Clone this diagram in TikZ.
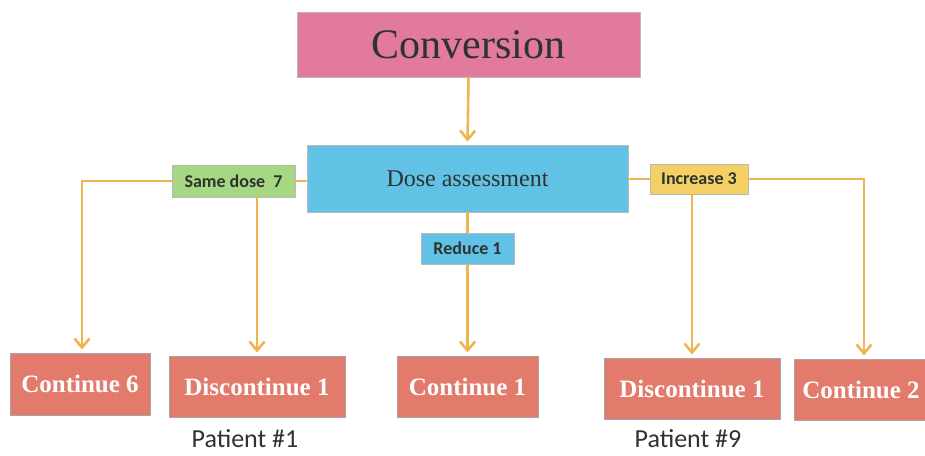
\documentclass[tikz,border=0pt]{standalone}
\usepackage{fontspec}
\setmainfont{Liberation Serif}
\newfontfamily\carlitofont{Carlito}
\usetikzlibrary{arrows.meta}
\definecolor{pinkc}{HTML}{E17A9C}
\definecolor{bluec}{HTML}{62C2E6}
\definecolor{greenc}{HTML}{A6D783}
\definecolor{yellc}{HTML}{F4D064}
\definecolor{salmc}{HTML}{E27B6C}
\definecolor{linec}{HTML}{EFB450}
\definecolor{txtc}{HTML}{2E3330}
\tikzset{
  box/.style={draw=gray!55, line width=0.8pt, inner sep=0pt, align=center, text=txtc},
  outbox/.style={box, fill=salmc, draw=gray!70, line width=1pt, text=white,
    font=\fontsize{25}{27}\selectfont\bfseries, minimum height=61pt},
  lab/.style={box, font=\carlitofont\bfseries\fontsize{18}{20}\selectfont, minimum height=31pt},
  conn/.style={draw=linec, line width=2.6pt},
  arr/.style={conn, -{Straight Barb[length=9pt,width=15pt,line width=2.6pt]}, shorten >=3pt},
  pat/.style={font=\carlitofont\fontsize{26}{28}\selectfont, text=txtc, inner sep=0pt}
}
\begin{document}
\begin{tikzpicture}[x=1pt,y=-1pt]
\useasboundingbox (0,0) rectangle (925,455);
\node[box, fill=pinkc, minimum width=343pt, minimum height=65pt, font=\fontsize{42}{44}\selectfont] (conv) at (468.5,44.5) {Conversion};
\node[box, fill=bluec, minimum width=321pt, minimum height=67pt, font=\fontsize{24}{26}\selectfont] (dose) at (467.5,178.5) {Dose assessment};
\node[lab, fill=greenc, minimum width=123pt, minimum height=32pt] (same) at (233.5,181) {Same dose\ \ 7};
\node[lab, fill=bluec, minimum width=93pt] (red) at (467.5,248.5) {Reduce 1};
\node[lab, fill=yellc, minimum width=98pt, minimum height=30pt] (inc) at (699,179) {Increase 3};
\node[outbox, minimum width=140pt, minimum height=62pt] (c6) at (80,384) {Continue 6};
\node[outbox, minimum width=176pt] (d1) at (257,386.5) {Discontinue 1};
\node[outbox, minimum width=141pt] (c1) at (467.5,386.5) {Continue 1};
\node[outbox, minimum width=176pt] (d9) at (692,388.5) {Discontinue 1};
\node[outbox, minimum width=134pt] (c2) at (861,389.5) {Continue 2};
\node[pat] (p1) at (245,438.5) {Patient \#1};
\node[pat] (p9) at (688,438.5) {Patient \#9};
\coordinate (sL) at (82,181);
\coordinate (iR) at (864,179);
\draw[arr] (conv.south) -- (dose.north);
\draw[conn] (dose.west |- same.east) -- (same.east);
\draw[arr] (same.west) -- (sL) -- (sL |- c6.north);
\draw[arr] (same.south -| d1.north) -- (d1.north);
\draw[conn] (dose.south) -- (red.north);
\draw[arr] (red.south) -- (c1.north);
\draw[conn] (dose.east |- inc.west) -- (inc.west);
\draw[arr] (inc.east) -- (iR) -- (iR |- c2.north);
\draw[arr] (inc.south -| d9.north) -- (d9.north);
\end{tikzpicture}
\end{document}
